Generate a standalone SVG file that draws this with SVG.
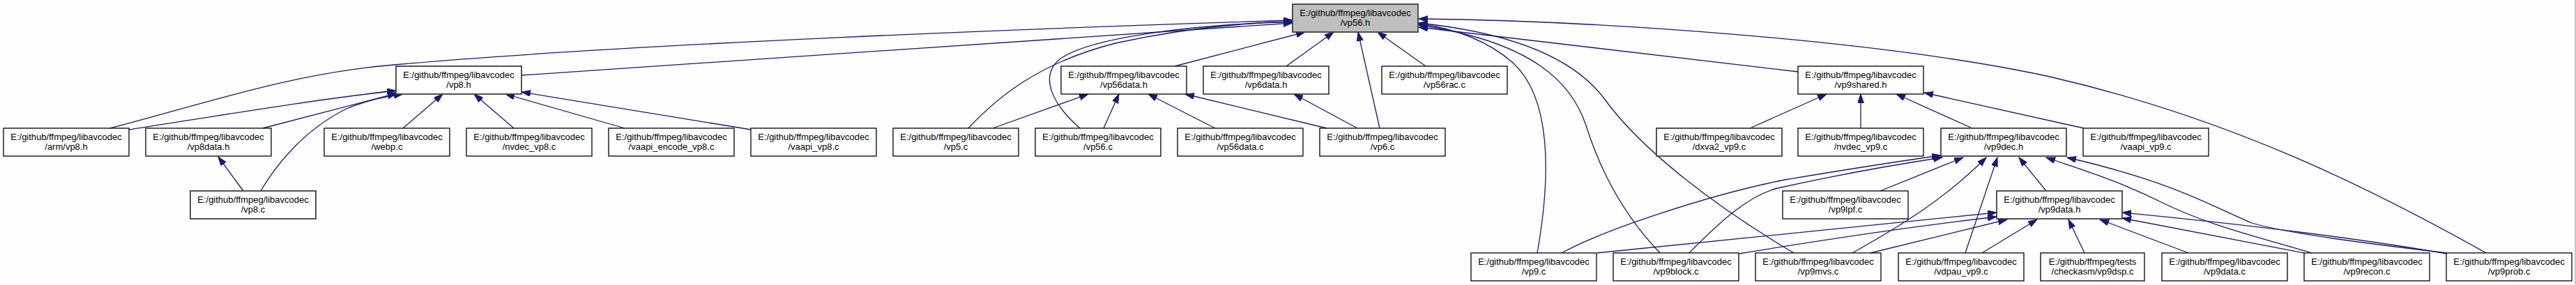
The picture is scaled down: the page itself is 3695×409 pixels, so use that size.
<svg xmlns="http://www.w3.org/2000/svg" width="3695" height="409" viewBox="0 0 3695 409">
<style>
.node rect{fill:#ffffff;stroke:#000000;stroke-width:1.3}
.node.dark rect{stroke:#404040;stroke-width:1.8}
.node.root rect{fill:#bfbfbf;stroke:#404040;stroke-width:1.8}
.node text{font-family:"Liberation Sans",Arial,sans-serif;font-size:13px;fill:#000000;text-anchor:middle}
.edges path{fill:none;stroke:#191970;stroke-width:1.3;marker-end:url(#arr)}
</style>
<defs>
<marker id="arr" markerUnits="userSpaceOnUse" markerWidth="14" markerHeight="10" refX="13" refY="4.5" orient="auto">
<path d="M0,0 L13,4.5 L0,9 z" fill="#191970" stroke="#191970" stroke-width="1"/>
</marker>
</defs>
<rect x="0" y="0" width="3695" height="409" fill="#fdfefd"/>
<line x1="3694" y1="0" x2="3694" y2="409" stroke="#b4b4b4" stroke-width="1.5"/>
<g id="connectors" class="edges">
<path id="e_armvp8h_vp56h" d="M158,184 C300,147 420,105 565,93 C900,63 1500,40 1854,29"/>
<path id="e_vp8h_vp56h" d="M748,108 L1854,33"/>
<path id="e_armvp8h_vp8h" d="M185,186 C350,160 460,142 568,130"/>
<path id="e_vp8datah_vp8h" d="M377,184 L569,134"/>
<path id="e_vp8c_vp8h" d="M374,274 C400,230 440,185 495,157 C520,146 548,139 578,135"/>
<path id="e_vp8c_vp8datah" d="M349,274 L313,225"/>
<path id="e_webpc_vp8h" d="M578,184 L635,135"/>
<path id="e_nvdecvp8c_vp8h" d="M737,184 L680,135"/>
<path id="e_vaapiencodevp8c_vp8h" d="M896,184 L725,135"/>
<path id="e_vaapivp8c_vp8h" d="M1077,186 L748,132"/>
<path id="e_vp5c_vp56h" d="M1389,184 C1430,140 1490,90 1600,62 C1700,40 1780,33 1854,31"/>
<path id="e_vp56c_vp56h" d="M1549,184 C1510,150 1490,110 1520,85 C1560,55 1700,36 1854,31"/>
<path id="e_vp56datah_vp56h" d="M1685,95 L1872,46"/>
<path id="e_vp6datah_vp56h" d="M1845,95 L1913,46"/>
<path id="e_vp6c_vp56h" d="M1979,184 L1948,46"/>
<path id="e_vp56racc_vp56h" d="M2045,95 L1976,46"/>
<path id="e_vp9sharedh_vp56h" d="M2579,103 L2035,39"/>
<path id="e_vp9probc_vp56h" d="M3566,363 C3400,270 3200,170 2940,110 C2700,58 2300,30 2035,27"/>
<path id="e_vp9c_vp56h" d="M2205,363 C2225,250 2225,140 2170,90 C2130,55 2080,40 2035,34"/>
<path id="e_vp9blockc_vp56h" d="M2381,363 C2340,320 2300,260 2275,180 C2255,120 2200,60 2035,36"/>
<path id="e_vp9mvsc_vp56h" d="M2573,363 C2450,290 2350,210 2300,140 C2250,75 2150,45 2035,33"/>
<path id="e_vp5c_vp56datah" d="M1424,184 L1561,135"/>
<path id="e_vp56c_vp56datah" d="M1583,184 L1605,135"/>
<path id="e_vp56datac_vp56datah" d="M1743,184 L1647,135"/>
<path id="e_vp6c_vp56datah" d="M1903,184 L1700,135"/>
<path id="e_vp6c_vp6datah" d="M1947,184 L1856,135"/>
<path id="e_dxva2vp9c_vp9sharedh" d="M2510,184 L2620,135"/>
<path id="e_nvdecvp9c_vp9sharedh" d="M2669,184 L2669,135"/>
<path id="e_vp9dech_vp9sharedh" d="M2829,184 L2720,135"/>
<path id="e_vaapivp9c_vp9sharedh" d="M2989,184 L2760,133"/>
<path id="e_vp9c_vp9dech" d="M2240,363 C2300,330 2450,280 2560,258 C2650,243 2720,232 2784,223"/>
<path id="e_vp9blockc_vp9dech" d="M2423,363 C2470,315 2510,280 2550,270 C2640,250 2720,236 2786,226"/>
<path id="e_vp9lpfc_vp9dech" d="M2697,274 L2816,226"/>
<path id="e_vp9mvsc_vp9dech" d="M2657,363 C2730,322 2790,285 2849,226"/>
<path id="e_vdpauvp9c_vp9dech" d="M2819,363 L2865,226"/>
<path id="e_vp9datah_vp9dech" d="M2935,274 L2896,226"/>
<path id="e_vp9reconc_vp9dech" d="M3316,363 C3220,335 3160,320 3100,290 C3040,260 2990,245 2935,226"/>
<path id="e_vp9probc_vp9dech" d="M3509,363 C3400,350 3280,335 3230,320 C3170,295 3120,262 2965,226"/>
<path id="e_vp9c_vp9datah" d="M2291,363 L2864,305"/>
<path id="e_vp9blockc_vp9datah" d="M2495,364 Q2700,330 2864,311"/>
<path id="e_vp9mvsc_vp9datah" d="M2683,363 L2879,315"/>
<path id="e_vdpauvp9c_vp9datah" d="M2843,363 L2922,315"/>
<path id="e_checkasm_vp9datah" d="M2990,363 L2967,315"/>
<path id="e_vp9datac_vp9datah" d="M3139,363 L3012,315"/>
<path id="e_vp9reconc_vp9datah" d="M3305,363 L3044,313"/>
<path id="e_vp9probc_vp9datah" d="M3509,364 C3400,345 3250,325 3044,305"/>
</g>
<g id="n_vp56h" class="node root"><rect x="1854" y="6" width="180" height="40"/><text x="1944" y="23">E:/github/ffmpeg/libavcodec</text><text x="1944" y="37">/vp56.h</text></g>
<g id="n_vp8h" class="node dark"><rect x="568" y="95" width="180" height="40"/><text x="658" y="112">E:/github/ffmpeg/libavcodec</text><text x="658" y="126">/vp8.h</text></g>
<g id="n_vp56datah" class="node"><rect x="1522" y="95" width="180" height="40"/><text x="1612" y="112">E:/github/ffmpeg/libavcodec</text><text x="1612" y="126">/vp56data.h</text></g>
<g id="n_vp6datah" class="node"><rect x="1726" y="95" width="180" height="40"/><text x="1816" y="112">E:/github/ffmpeg/libavcodec</text><text x="1816" y="126">/vp6data.h</text></g>
<g id="n_vp56racc" class="node"><rect x="1982" y="95" width="180" height="40"/><text x="2072" y="112">E:/github/ffmpeg/libavcodec</text><text x="2072" y="126">/vp56rac.c</text></g>
<g id="n_vp9sharedh" class="node"><rect x="2579" y="95" width="180" height="40"/><text x="2669" y="112">E:/github/ffmpeg/libavcodec</text><text x="2669" y="126">/vp9shared.h</text></g>
<g id="n_armvp8h" class="node"><rect x="5" y="184" width="180" height="40"/><text x="95" y="201">E:/github/ffmpeg/libavcodec</text><text x="95" y="215">/arm/vp8.h</text></g>
<g id="n_vp8datah" class="node"><rect x="209" y="184" width="180" height="40"/><text x="299" y="201">E:/github/ffmpeg/libavcodec</text><text x="299" y="215">/vp8data.h</text></g>
<g id="n_webpc" class="node"><rect x="465" y="184" width="180" height="40"/><text x="555" y="201">E:/github/ffmpeg/libavcodec</text><text x="555" y="215">/webp.c</text></g>
<g id="n_nvdecvp8c" class="node"><rect x="669" y="184" width="180" height="40"/><text x="759" y="201">E:/github/ffmpeg/libavcodec</text><text x="759" y="215">/nvdec_vp8.c</text></g>
<g id="n_vaapiencodevp8c" class="node"><rect x="873" y="184" width="180" height="40"/><text x="963" y="201">E:/github/ffmpeg/libavcodec</text><text x="963" y="215">/vaapi_encode_vp8.c</text></g>
<g id="n_vaapivp8c" class="node"><rect x="1077" y="184" width="180" height="40"/><text x="1167" y="201">E:/github/ffmpeg/libavcodec</text><text x="1167" y="215">/vaapi_vp8.c</text></g>
<g id="n_vp5c" class="node"><rect x="1281" y="184" width="180" height="40"/><text x="1371" y="201">E:/github/ffmpeg/libavcodec</text><text x="1371" y="215">/vp5.c</text></g>
<g id="n_vp56c" class="node"><rect x="1485" y="184" width="180" height="40"/><text x="1575" y="201">E:/github/ffmpeg/libavcodec</text><text x="1575" y="215">/vp56.c</text></g>
<g id="n_vp56datac" class="node"><rect x="1689" y="184" width="180" height="40"/><text x="1779" y="201">E:/github/ffmpeg/libavcodec</text><text x="1779" y="215">/vp56data.c</text></g>
<g id="n_vp6c" class="node"><rect x="1893" y="184" width="180" height="40"/><text x="1983" y="201">E:/github/ffmpeg/libavcodec</text><text x="1983" y="215">/vp6.c</text></g>
<g id="n_dxva2vp9c" class="node dark"><rect x="2376" y="184" width="180" height="40"/><text x="2466" y="201">E:/github/ffmpeg/libavcodec</text><text x="2466" y="215">/dxva2_vp9.c</text></g>
<g id="n_nvdecvp9c" class="node"><rect x="2579" y="184" width="180" height="40"/><text x="2669" y="201">E:/github/ffmpeg/libavcodec</text><text x="2669" y="215">/nvdec_vp9.c</text></g>
<g id="n_vp9dech" class="node dark"><rect x="2784" y="184" width="180" height="40"/><text x="2874" y="201">E:/github/ffmpeg/libavcodec</text><text x="2874" y="215">/vp9dec.h</text></g>
<g id="n_vaapivp9c" class="node"><rect x="2988" y="184" width="180" height="40"/><text x="3078" y="201">E:/github/ffmpeg/libavcodec</text><text x="3078" y="215">/vaapi_vp9.c</text></g>
<g id="n_vp8c" class="node dark"><rect x="273" y="274" width="180" height="40"/><text x="363" y="291">E:/github/ffmpeg/libavcodec</text><text x="363" y="305">/vp8.c</text></g>
<g id="n_vp9lpfc" class="node"><rect x="2557" y="274" width="180" height="40"/><text x="2647" y="291">E:/github/ffmpeg/libavcodec</text><text x="2647" y="305">/vp9lpf.c</text></g>
<g id="n_vp9datah" class="node dark"><rect x="2864" y="274" width="180" height="40"/><text x="2954" y="291">E:/github/ffmpeg/libavcodec</text><text x="2954" y="305">/vp9data.h</text></g>
<g id="n_vp9c" class="node"><rect x="2110" y="363" width="180" height="40"/><text x="2200" y="380">E:/github/ffmpeg/libavcodec</text><text x="2200" y="394">/vp9.c</text></g>
<g id="n_vp9blockc" class="node"><rect x="2314" y="363" width="180" height="40"/><text x="2404" y="380">E:/github/ffmpeg/libavcodec</text><text x="2404" y="394">/vp9block.c</text></g>
<g id="n_vp9mvsc" class="node"><rect x="2518" y="363" width="180" height="40"/><text x="2608" y="380">E:/github/ffmpeg/libavcodec</text><text x="2608" y="394">/vp9mvs.c</text></g>
<g id="n_vdpauvp9c" class="node"><rect x="2723" y="363" width="180" height="40"/><text x="2813" y="380">E:/github/ffmpeg/libavcodec</text><text x="2813" y="394">/vdpau_vp9.c</text></g>
<g id="n_checkasm" class="node"><rect x="2927" y="363" width="149" height="40"/><text x="3001.5" y="380">E:/github/ffmpeg/tests</text><text x="3001.5" y="394">/checkasm/vp9dsp.c</text></g>
<g id="n_vp9datac" class="node"><rect x="3101" y="363" width="180" height="40"/><text x="3191" y="380">E:/github/ffmpeg/libavcodec</text><text x="3191" y="394">/vp9data.c</text></g>
<g id="n_vp9reconc" class="node"><rect x="3305" y="363" width="180" height="40"/><text x="3395" y="380">E:/github/ffmpeg/libavcodec</text><text x="3395" y="394">/vp9recon.c</text></g>
<g id="n_vp9probc" class="node"><rect x="3509" y="363" width="180" height="40"/><text x="3599" y="380">E:/github/ffmpeg/libavcodec</text><text x="3599" y="394">/vp9prob.c</text></g>
</svg>
